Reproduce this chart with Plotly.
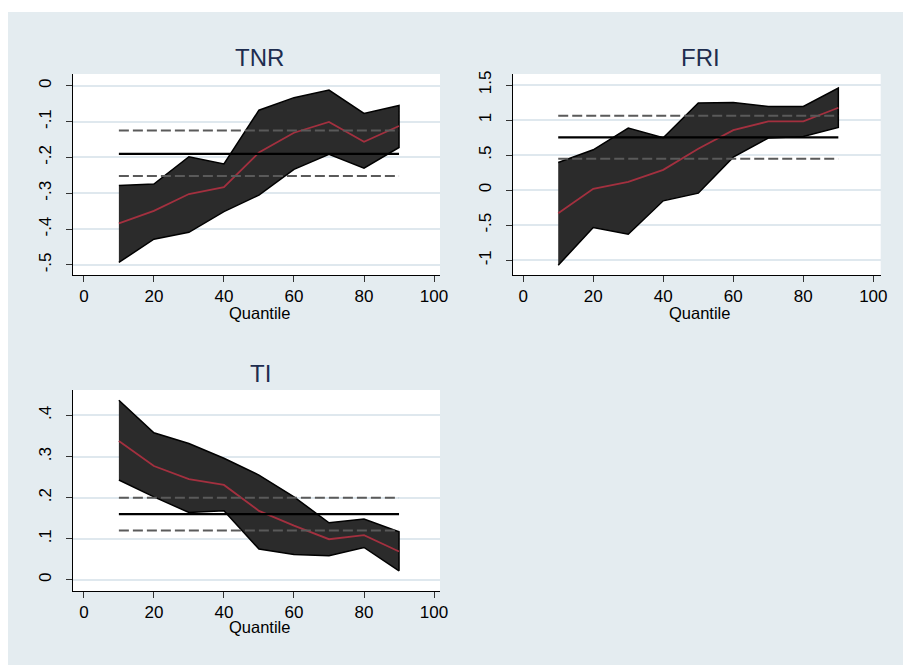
import plotly.graph_objects as go

W, H = 903, 665

quantiles = [10, 20, 30, 40, 50, 60, 70, 80, 90]

# TNR
tnr_coef = [-0.384, -0.349, -0.302, -0.283, -0.186, -0.131, -0.101, -0.156, -0.112]
tnr_upper = [-0.278, -0.274, -0.198, -0.218, -0.068, -0.033, -0.012, -0.077, -0.055]
tnr_lower = [-0.493, -0.428, -0.409, -0.351, -0.305, -0.233, -0.191, -0.230, -0.172]
tnr_ols = -0.190
tnr_ols_ci = [-0.252, -0.125]

# FRI
fri_coef = [-0.329, 0.019, 0.119, 0.290, 0.590, 0.857, 0.981, 0.981, 1.176]
fri_upper = [0.395, 0.576, 0.886, 0.748, 1.243, 1.252, 1.195, 1.195, 1.457]
fri_lower = [-1.071, -0.533, -0.629, -0.152, -0.043, 0.471, 0.743, 0.767, 0.895]
fri_ols = 0.752
fri_ols_ci = [0.448, 1.062]

# TI
ti_coef = [0.338, 0.277, 0.245, 0.231, 0.168, 0.132, 0.099, 0.109, 0.069]
ti_upper = [0.437, 0.358, 0.332, 0.296, 0.255, 0.202, 0.139, 0.148, 0.117]
ti_lower = [0.243, 0.202, 0.164, 0.168, 0.075, 0.062, 0.059, 0.079, 0.022]
ti_ols = 0.160
ti_ols_ci = [0.120, 0.200]

x_ticks = [0, 20, 40, 60, 80, 100]
tnr_yticks = [0, -0.1, -0.2, -0.3, -0.4, -0.5]
tnr_ylabels = ["0", "-.1", "-.2", "-.3", "-.4", "-.5"]
fri_yticks = [-1, -0.5, 0, 0.5, 1, 1.5]
fri_ylabels = ["-1", "-.5", "0", ".5", "1", "1.5"]
ti_yticks = [0, 0.1, 0.2, 0.3, 0.4]
ti_ylabels = ["0", ".1", ".2", ".3", ".4"]

titles = ["TNR", "FRI", "TI"]
xlabel = "Quantile"

FONT = "Arial, 'Liberation Sans', sans-serif"
BG = "#e4ecf0"
GRID = "#dfe8ee"
BAND = "#2b2b2b"
RED = "#a3303f"
DASH = "#5a5a5a"

# panel pixel boxes: (left, right, top, bottom)
boxes = [(73, 440, 74, 275), (512.7, 880.7, 74, 275), (73, 440, 390, 591)]
xranges = [[-3.1, 101.7], [-3.0, 102.1], [-3.1, 101.7]]
yranges = [[-0.528, 0.033], [-1.21, 1.657], [-0.027, 0.462]]
title_pos = [(259, 57), (700, 57), (260, 373)]
xlabel_pos = [(259, 313), (699, 313), (259, 627)]

panels = [
    (tnr_coef, tnr_upper, tnr_lower, tnr_ols, tnr_ols_ci, tnr_yticks, tnr_ylabels),
    (fri_coef, fri_upper, fri_lower, fri_ols, fri_ols_ci, fri_yticks, fri_ylabels),
    (ti_coef, ti_upper, ti_lower, ti_ols, ti_ols_ci, ti_yticks, ti_ylabels),
]

fig = go.Figure()
annotations = []
for i, (coef, up, lo, ols, ci, yt, yl) in enumerate(panels):
    n = i + 1
    xa = "x" if n == 1 else f"x{n}"
    ya = "y" if n == 1 else f"y{n}"
    # band
    fig.add_trace(go.Scatter(
        x=quantiles + quantiles[::-1], y=up + lo[::-1],
        fill="toself", fillcolor=BAND, mode="lines",
        line=dict(color="black", width=1.5), xaxis=xa, yaxis=ya,
        showlegend=False, hoverinfo="skip"))
    # coefficient
    fig.add_trace(go.Scatter(
        x=quantiles, y=coef, mode="lines",
        line=dict(color=RED, width=1.8), xaxis=xa, yaxis=ya, showlegend=False))
    # OLS line
    fig.add_trace(go.Scatter(
        x=[quantiles[0], quantiles[-1]], y=[ols, ols], mode="lines",
        line=dict(color="black", width=2.2), xaxis=xa, yaxis=ya, showlegend=False))
    for c in ci:
        fig.add_trace(go.Scatter(
            x=[quantiles[0], quantiles[-1]], y=[c, c], mode="lines",
            line=dict(color=DASH, width=2, dash="10px,4px"),
            xaxis=xa, yaxis=ya, showlegend=False))

    l, r, t, b = boxes[i]
    axcommon = dict(showline=True, linecolor="black", linewidth=1,
                    ticks="outside", ticklen=6, tickwidth=1, tickcolor="#333",
                    tickfont=dict(family=FONT, size=17, color="black"),
                    zeroline=False, mirror=False, automargin=False)
    xkey = "xaxis" if n == 1 else f"xaxis{n}"
    ykey = "yaxis" if n == 1 else f"yaxis{n}"
    fig.layout[xkey] = dict(
        domain=[l / W, r / W], anchor=ya, range=xranges[i],
        tickvals=x_ticks, showgrid=False, **axcommon)
    fig.layout[ykey] = dict(
        domain=[1 - b / H, 1 - t / H], anchor=xa, range=yranges[i],
        tickvals=yt, ticktext=yl, tickangle=-90, showgrid=True,
        gridcolor=GRID, gridwidth=2, ticklabelstandoff=8, **axcommon)

    tx, ty = title_pos[i]
    annotations.append(dict(
        text=titles[i], x=tx / W, y=1 - ty / H, xref="paper", yref="paper",
        xanchor="center", yanchor="middle", showarrow=False,
        font=dict(family=FONT, size=24, color="#1e2d4f")))
    qx, qy = xlabel_pos[i]
    annotations.append(dict(
        text=xlabel, x=qx / W, y=1 - qy / H, xref="paper", yref="paper",
        xanchor="center", yanchor="middle", showarrow=False,
        font=dict(family=FONT, size=16.5, color="black")))

fig.update_layout(
    width=W, height=H,
    margin=dict(l=0, r=0, t=0, b=0, pad=0, autoexpand=False),
    paper_bgcolor=BG, plot_bgcolor="white",
    annotations=annotations,
    shapes=[
        dict(type="rect", xref="paper", yref="paper", x0=0, x1=8 / W, y0=0, y1=1,
             fillcolor="white", line=dict(width=0), layer="above"),
        dict(type="rect", xref="paper", yref="paper", x0=0, x1=1, y0=1 - 12 / H, y1=1,
             fillcolor="white", line=dict(width=0), layer="above"),
    ],
    showlegend=False,
)

fig.write_html(
    "out.html",
    config={"displayModeBar": False},
    post_script="document.body.style.margin='0';document.documentElement.style.overflow='hidden';document.body.style.overflow='hidden';",
)
